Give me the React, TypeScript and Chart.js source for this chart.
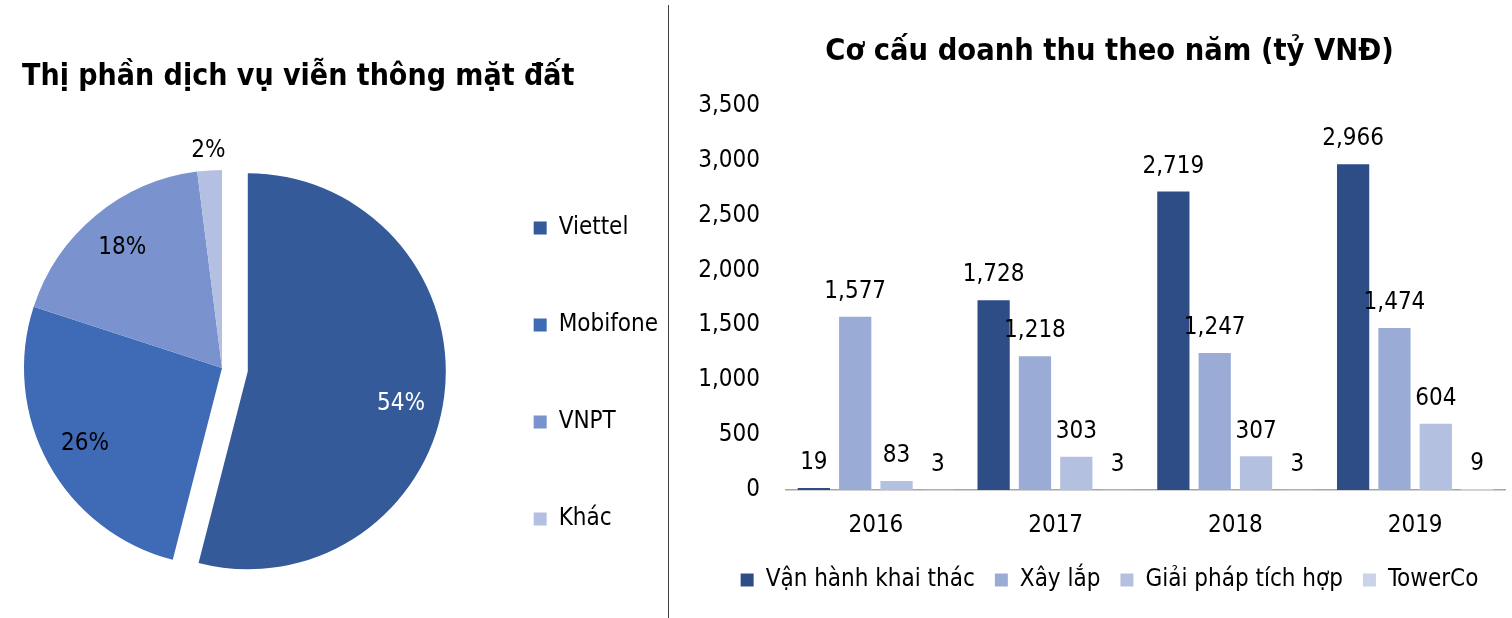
import { useEffect, useRef } from "react";
import { Chart, registerables } from "chart.js";

Chart.register(...registerables);

const FONT = '"DejaVu Sans Condensed", "DejaVu Sans", sans-serif';

// market share (pie)
const shareLabels = ["Viettel", "Mobifone", "VNPT", "Khác"];
const shareValues = [54, 26, 18, 2];
const shareColors = ["#345A99", "#3F6AB6", "#7A93CE", "#B4C0E1"];

// revenue by year (bars)
const years = ["2016", "2017", "2018", "2019"];
const seriesNames = ["Vận hành khai thác", "Xây lắp", "Giải pháp tích hợp", "TowerCo"];
const vanHanh = [19, 1728, 2719, 2966];
const xayLap = [1577, 1218, 1247, 1474];
const giaiPhap = [83, 303, 307, 604];
const towerCo = [3, 3, 3, 9];
const seriesColors = ["#2E4D87", "#9AACD6", "#B4C0E0", "#CBD3EA"];

// where the pie sits inside the left canvas
const PIE_CX = 222;
const PIE_CY = 368;
const PIE_BOX = 396;
const EXPLODE = 26; // Viettel slice pulled out by this many px

const pieArea = {
  id: "pieArea",
  afterLayout(chart: any) {
    const a = chart.chartArea;
    a.left = PIE_CX - PIE_BOX / 2;
    a.right = PIE_CX + PIE_BOX / 2;
    a.top = PIE_CY - PIE_BOX / 2;
    a.bottom = PIE_CY + PIE_BOX / 2;
    a.width = PIE_BOX;
    a.height = PIE_BOX;
  },
};

// chart.js' own offset grows slices bigger than half the pie, so move the first one by hand
const explodeFirst = {
  id: "explodeFirst",
  beforeDatasetsDraw(chart: any) {
    const arc: any = chart.getDatasetMeta(0).data[0];
    if (!arc) return;
    const mid = (arc.startAngle + arc.endAngle) / 2;
    arc._home = { x: arc.x, y: arc.y };
    arc.x += Math.cos(mid) * EXPLODE;
    arc.y += Math.sin(mid) * EXPLODE;
  },
  afterDatasetsDraw(chart: any) {
    const arc: any = chart.getDatasetMeta(0).data[0];
    if (arc && arc._home) {
      arc.x = arc._home.x;
      arc.y = arc._home.y;
      delete arc._home;
    }
  },
};

const pieLabels = {
  id: "pieLabels",
  afterDatasetsDraw(chart: any) {
    const { ctx } = chart;
    const meta = chart.getDatasetMeta(0);
    ctx.save();
    ctx.font = `24px ${FONT}`;
    ctx.textAlign = "center";
    ctx.textBaseline = "middle";
    meta.data.forEach((arc: any, i: number) => {
      const { x, y, startAngle, endAngle, outerRadius } = arc;
      const mid = (startAngle + endAngle) / 2 + (i === 0 ? 0.07 : 0);
      const shift = i === 0 ? EXPLODE : 0;
      const r = outerRadius * (i === 3 ? 1.1 : 0.79) + shift;
      ctx.fillStyle = i === 0 ? "#ffffff" : "#000000";
      ctx.fillText(shareValues[i] + "%", x + Math.cos(mid) * r, y + Math.sin(mid) * r);
    });
    ctx.restore();
  },
};

const barValues = {
  id: "barValues",
  afterDatasetsDraw(chart: any) {
    const { ctx } = chart;
    ctx.save();
    ctx.font = `24px ${FONT}`;
    ctx.textAlign = "center";
    ctx.textBaseline = "middle";
    ctx.fillStyle = "#000000";
    chart.data.datasets.forEach((ds: any, di: number) => {
      chart.getDatasetMeta(di).data.forEach((bar: any, i: number) => {
        const v = ds.data[i] as number;
        ctx.fillText(v.toLocaleString("en-US"), bar.x, bar.y - 25);
      });
    });
    ctx.restore();
  },
};

function SharePie() {
  const canvasRef = useRef<HTMLCanvasElement>(null);

  useEffect(() => {
    if (!canvasRef.current) return;
    const chart = new Chart(canvasRef.current, {
      type: "pie",
      data: {
        labels: shareLabels,
        datasets: [
          {
            data: shareValues,
            backgroundColor: shareColors,
            borderWidth: 0,
          },
        ],
      },
      options: {
        responsive: false,
        animation: false,
        layout: { padding: { left: 22, right: 0, top: 0, bottom: 14 } },
        plugins: {
          title: {
            display: true,
            text: "Thị phần dịch vụ viễn thông mặt đất",
            align: "start",
            color: "#000000",
            font: { family: FONT, size: 30, weight: "bold" },
            padding: { top: 59, bottom: 49 },
          },
          legend: {
            position: "right",
            align: "end",
            labels: {
              color: "#000000",
              font: { family: FONT, size: 24 },
              boxWidth: 13,
              boxHeight: 13,
              padding: 73,
            },
          },
          tooltip: { enabled: false },
        },
      },
      plugins: [pieArea, explodeFirst, pieLabels],
    } as any);
    return () => chart.destroy();
  }, []);

  return <canvas ref={canvasRef} width={668} height={618} />;
}

function RevenueBars() {
  const canvasRef = useRef<HTMLCanvasElement>(null);

  useEffect(() => {
    if (!canvasRef.current) return;
    const series = [vanHanh, xayLap, giaiPhap, towerCo];
    const chart = new Chart(canvasRef.current, {
      type: "bar",
      data: {
        labels: years,
        datasets: series.map((data, i) => ({
          label: seriesNames[i],
          data,
          backgroundColor: seriesColors[i],
          borderWidth: 0,
          categoryPercentage: 0.92,
          barPercentage: 0.78,
        })),
      },
      options: {
        responsive: false,
        animation: false,
        layout: { padding: { left: 24, right: 7, top: 0, bottom: 16 } },
        scales: {
          x: {
            grid: { display: false, drawTicks: false },
            border: { display: true, color: "#A6A6A6", width: 1.5 },
            ticks: { color: "#000000", font: { family: FONT, size: 24 }, padding: 21 },
            afterFit: (scale: any) => {
              scale.height = 58;
            },
          },
          y: {
            min: 0,
            max: 3500,
            ticks: {
              stepSize: 500,
              color: "#000000",
              font: { family: FONT, size: 24 },
              padding: 26,
            },
            grid: { display: false, drawTicks: false },
            border: { display: false },
            afterFit: (scale: any) => {
              scale.width = 90;
            },
          },
          // empty spacer on the right so the title sits where it should
          y2: {
            position: "right",
            grid: { display: false, drawTicks: false },
            border: { display: false },
            ticks: { display: false },
            afterFit: (scale: any) => {
              scale.width = 18;
            },
          },
        },
        plugins: {
          title: {
            display: true,
            text: "Cơ cấu doanh thu theo năm (tỷ VNĐ)",
            color: "#000000",
            font: { family: FONT, size: 30.5, weight: "bold" },
            padding: { top: 34, bottom: 35 },
          },
          legend: {
            position: "bottom",
            labels: {
              color: "#000000",
              font: { family: FONT, size: 24 },
              boxWidth: 13,
              boxHeight: 13,
              padding: 20,
            },
          },
          tooltip: { enabled: false },
        },
      },
      plugins: [barValues],
    } as any);
    return () => chart.destroy();
  }, []);

  return <canvas ref={canvasRef} width={858} height={618} />;
}

export default function App() {
  useEffect(() => {
    document.body.style.margin = "0";
  }, []);

  return (
    <div
      style={{
        position: "relative",
        width: 1512,
        height: 618,
        overflow: "hidden",
        background: "#fff",
      }}
    >
      <div style={{ position: "absolute", left: 0, top: 0 }}>
        <SharePie />
      </div>
      <div
        style={{
          position: "absolute",
          left: 668,
          top: 5,
          width: 1,
          height: 613,
          background: "#404040",
        }}
      />
      <div style={{ position: "absolute", left: 672, top: 0 }}>
        <RevenueBars />
      </div>
    </div>
  );
}
